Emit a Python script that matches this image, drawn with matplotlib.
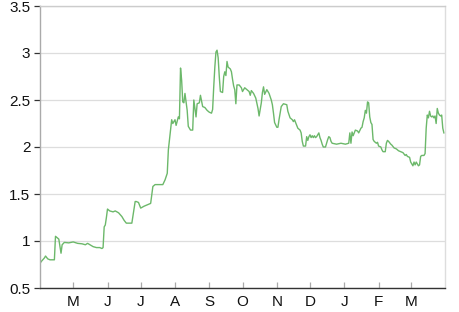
"""Price series, April to March."""

import matplotlib
matplotlib.use("Agg")
import matplotlib.pyplot as plt
import matplotlib.dates as mdates
import numpy as np
import pandas as pd

START = "2023-04-01"
END = "2024-04-01"

# day offsets from START and the value on that day
days = [
    0, 1, 4, 5, 7, 9, 13, 14, 17, 19, 20, 22, 26, 30, 34, 38, 41, 43, 48, 51,
    54, 56, 57, 58, 59, 60, 61, 63, 66, 68, 71, 74, 76, 78, 83, 86, 87, 89, 91,
    94, 98, 100, 101, 102, 104, 111, 113, 115, 116, 118, 119, 120, 122, 123,
    125, 126, 127, 128, 129, 130, 131, 133, 134, 135, 136, 138, 139, 141, 142,
    144, 145, 147, 149, 151, 153, 155, 156, 157, 158, 159, 160, 161, 162, 163,
    165, 166, 167, 168, 169, 170, 172, 173, 174, 175, 176, 177, 178, 180, 182,
    183, 185, 187, 189, 190, 191, 193, 195, 197, 198, 200, 201, 202, 203, 205,
    207, 209, 210, 211, 212, 214, 215, 216, 218, 220, 223, 224, 226, 228, 229,
    230, 233, 235, 236, 237, 238, 240, 241, 242, 243, 244, 245, 246, 247, 248,
    249, 250, 252, 253, 254, 255, 256, 258, 260, 261, 262, 263, 264, 268, 272,
    276, 279, 280, 281, 282, 283, 285, 287, 288, 290, 291, 292, 293, 294, 295,
    296, 297, 298, 299, 300, 301, 302, 304, 305, 306, 308, 309, 310, 312, 313,
    314, 315, 317, 318, 320, 322, 324, 326, 328, 330, 331, 332, 334, 335, 336,
    337, 338, 339, 340, 341, 342, 343, 344, 345, 347, 348, 349, 350, 351, 352,
    353, 354, 355, 356, 357, 358, 359, 360, 361, 362, 363, 364, 365,
]
values = [
    0.76, 0.78, 0.82, 0.84, 0.81, 0.80, 0.80, 1.05, 1.02, 0.87, 0.96, 0.985,
    0.98, 0.99, 0.975, 0.97, 0.96, 0.975, 0.94, 0.93, 0.93, 0.92, 0.93, 1.15,
    1.17, 1.25, 1.34, 1.32, 1.31, 1.32, 1.30, 1.26, 1.22, 1.19, 1.19, 1.42,
    1.42, 1.41, 1.35, 1.37, 1.39, 1.40, 1.49, 1.58, 1.60, 1.60, 1.65, 1.72,
    1.97, 2.18, 2.29, 2.25, 2.29, 2.23, 2.32, 2.30, 2.84, 2.71, 2.48, 2.47,
    2.57, 2.39, 2.22, 2.20, 2.18, 2.18, 2.50, 2.32, 2.46, 2.47, 2.55, 2.43,
    2.42, 2.39, 2.37, 2.36, 2.40, 2.64, 2.85, 3.01, 3.03, 2.95, 2.75, 2.59,
    2.58, 2.75, 2.80, 2.76, 2.91, 2.85, 2.83, 2.80, 2.72, 2.65, 2.61, 2.46,
    2.66, 2.66, 2.63, 2.59, 2.63, 2.61, 2.59, 2.55, 2.60, 2.57, 2.52, 2.41,
    2.33, 2.47, 2.58, 2.64, 2.56, 2.61, 2.57, 2.50, 2.45, 2.36, 2.26, 2.21,
    2.21, 2.29, 2.43, 2.46, 2.45, 2.38, 2.31, 2.29, 2.27, 2.29, 2.20, 2.18,
    2.15, 2.06, 2.01, 2.01, 2.11, 2.07, 2.11, 2.13, 2.10, 2.12, 2.10, 2.12,
    2.10, 2.11, 2.15, 2.10, 2.07, 2.03, 2.00, 2.00, 2.08, 2.11, 2.10, 2.06,
    2.04, 2.03, 2.04, 2.03, 2.04, 2.15, 2.04, 2.16, 2.12, 2.18, 2.17, 2.15,
    2.20, 2.21, 2.27, 2.31, 2.39, 2.36, 2.48, 2.47, 2.32, 2.26, 2.24, 2.08,
    2.06, 2.04, 2.05, 2.01, 2.00, 1.97, 1.95, 1.95, 2.04, 2.07, 2.06, 2.03,
    2.02, 1.99, 1.98, 1.96, 1.95, 1.94, 1.91, 1.92, 1.90, 1.89, 1.84, 1.82,
    1.80, 1.84, 1.81, 1.84, 1.82, 1.80, 1.81, 1.90, 1.91, 1.91, 1.93, 2.20,
    2.34, 2.31, 2.38, 2.33, 2.32, 2.33, 2.31, 2.33, 2.25, 2.41, 2.36, 2.34,
    2.33, 2.34, 2.20, 2.15,
]

month_ticks = ["2023-05-01", "2023-06-01", "2023-07-01", "2023-08-01",
               "2023-09-01", "2023-10-01", "2023-11-01", "2023-12-01",
               "2024-01-01", "2024-02-01", "2024-03-01"]
month_labels = ["M", "J", "J", "A", "S", "O", "N", "D", "J", "F", "M"]
y_ticks = [0.5, 1, 1.5, 2, 2.5, 3, 3.5]
y_labels = ["0.5", "1", "1.5", "2", "2.5", "3", "3.5"]

plt.rcParams["font.family"] = ["Liberation Sans", "DejaVu Sans"]

dates = pd.Timestamp(START) + pd.to_timedelta(days, unit="D")

fig = plt.figure(figsize=(4.59, 3.12), dpi=100)
ax = fig.add_axes([40 / 459, 24 / 312, 405 / 459, 282 / 312])

ax.plot(dates, values, color="#6cb86a", lw=1.0)

ax.set_xlim(pd.Timestamp(START), pd.Timestamp(END))
ax.set_ylim(0.5, 3.5)
ax.set_yticks(y_ticks)
ax.set_yticklabels(y_labels)
ax.set_xticks(pd.to_datetime(month_ticks))
ax.set_xticklabels(month_labels)

ax.grid(True, axis="y", color="#dddddd", lw=0.9)
ax.set_axisbelow(True)

for side, colour in [("left", "#aaaaaa"), ("right", "#dddddd"),
                     ("top", "#cccccc"), ("bottom", "#333333")]:
    ax.spines[side].set_color(colour)
    ax.spines[side].set_linewidth(1.0)

ax.tick_params(axis="y", direction="out", length=4, width=0.9,
               color="#333333", labelsize=11, pad=3, labelcolor="#111111")
ax.tick_params(axis="x", direction="in", length=4, width=0.9,
               color="#aaaaaa", labelsize=11, pad=5, labelcolor="#111111")

fig.savefig("out.png", dpi=100)
plt.close(fig)
